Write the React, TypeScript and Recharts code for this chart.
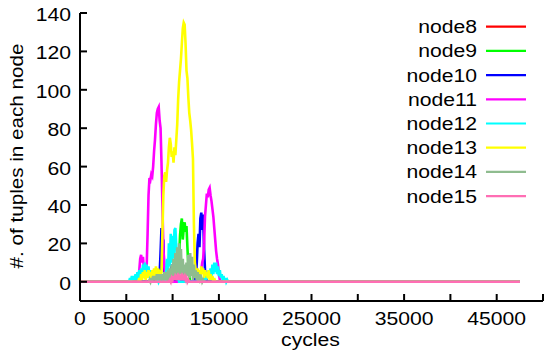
import React from 'react';
import { LineChart, Line, XAxis, YAxis, Legend } from 'recharts';

type Pt = [number, number];

const xTicks = [0, 5000, 10000, 15000, 20000, 25000, 30000, 35000, 40000, 45000, 50000];
const xTickLabels = [0, 5000, 15000, 25000, 35000, 45000];
const yTicks = [0, 20, 40, 60, 80, 100, 120, 140];

// [cycles, tuples]
const node8: Pt[] = [[0, 0], [47500, 0]];

const node9: Pt[] = [
  [0, 0], [10500, 0], [10600, 3], [10700, 12], [10800, 24], [10900, 30], [11000, 33], [11100, 22],
  [11200, 28], [11300, 31], [11400, 26], [11500, 29], [11600, 18], [11700, 8], [11800, 3], [11900, 0],
  [47500, 0],
];

const node10: Pt[] = [
  [0, 0], [8500, 0], [8600, 4], [8700, 15], [8800, 28], [8900, 12], [9000, 22], [9100, 4], [9200, 1],
  [9300, 0], [9800, 0], [9900, 9], [10000, 3], [10100, 0], [12400, 0], [12500, 3], [12600, 9],
  [12700, 20], [12800, 25], [12900, 18], [13000, 33], [13100, 36], [13200, 27], [13300, 35],
  [13400, 17], [13500, 6], [13600, 2], [13700, 0], [47500, 0],
];

const node11: Pt[] = [
  [0, 0], [6300, 0], [6400, 6], [6500, 12], [6600, 14], [6700, 10], [6800, 13], [6900, 7], [7000, 3],
  [7100, 2], [7200, 8], [7300, 25], [7400, 45], [7500, 54], [7600, 53], [7700, 56], [7800, 55],
  [7900, 60], [8000, 68], [8100, 74], [8200, 82], [8300, 88], [8400, 90], [8500, 91], [8600, 84],
  [8700, 80], [8800, 62], [8900, 40], [9000, 18], [9100, 8], [9200, 4], [9300, 0], [12900, 0],
  [13000, 3], [13100, 6], [13200, 10], [13300, 12], [13400, 20], [13500, 34], [13600, 40],
  [13700, 46], [13800, 44], [13900, 48], [14000, 49], [14100, 45], [14200, 42], [14300, 38],
  [14400, 34], [14500, 28], [14600, 22], [14700, 16], [14800, 12], [14900, 9], [15000, 4],
  [15100, 1], [15200, 0], [47500, 0],
];

const node12: Pt[] = [
  [0, 0], [5300, 0], [5400, 2], [5500, 0], [5600, 3], [5700, 1], [5800, 3], [5900, 1], [6000, 4],
  [6100, 1], [6200, 5], [6300, 2], [6400, 6], [6500, 2], [6600, 7], [6700, 3], [6800, 9], [6900, 4],
  [7000, 10], [7100, 5], [7200, 9], [7300, 3], [7400, 8], [7500, 2], [7600, 6], [7700, 2], [7800, 5],
  [7900, 1], [8000, 4], [8100, 1], [8200, 3], [8300, 0], [8400, 2], [8500, 0], [8600, 1], [8700, 0],
  [9200, 0], [9300, 5], [9400, 12], [9500, 4], [9600, 20], [9700, 8], [9800, 25], [9900, 10],
  [10000, 24], [10100, 12], [10200, 27], [10300, 28], [10400, 18], [10500, 6], [10600, 2], [10700, 0],
  [13200, 0], [13300, 2], [13400, 0], [13500, 4], [13600, 1], [13700, 5], [13800, 2], [13900, 6],
  [14000, 2], [14100, 7], [14200, 3], [14300, 9], [14400, 4], [14500, 10], [14600, 5], [14700, 10],
  [14800, 4], [14900, 8], [15000, 3], [15100, 6], [15200, 2], [15300, 4], [15400, 1], [15500, 3],
  [15600, 0], [15700, 2], [15800, 0], [15900, 1], [16000, 0], [47500, 0],
];

const node13: Pt[] = [
  [0, 0], [6300, 0], [6400, 2], [6500, 0], [6600, 4], [6700, 1], [6800, 5], [6900, 2], [7000, 6],
  [7100, 1], [7200, 5], [7300, 2], [7400, 6], [7500, 3], [7600, 5], [7700, 2], [7800, 6], [7900, 3],
  [8000, 7], [8100, 2], [8200, 8], [8300, 3], [8400, 7], [8500, 2], [8600, 5], [8700, 4], [8800, 5],
  [8900, 25], [9000, 45], [9100, 55], [9200, 57], [9300, 52], [9400, 58], [9500, 62], [9600, 70],
  [9700, 75], [9800, 72], [9900, 65], [10000, 68], [10100, 62], [10200, 70], [10300, 66], [10400, 74],
  [10500, 82], [10600, 95], [10700, 104], [10800, 110], [10900, 116], [11000, 124], [11100, 132],
  [11200, 135], [11300, 134], [11400, 124], [11500, 110], [11600, 106], [11700, 96], [11800, 88],
  [11900, 84], [12000, 79], [12100, 72], [12200, 64], [12300, 30], [12400, 10], [12500, 6], [12600, 3],
  [12700, 7], [12800, 2], [12900, 6], [13000, 3], [13100, 8], [13200, 4], [13300, 7], [13400, 2],
  [13500, 6], [13600, 3], [13700, 5], [13800, 2], [13900, 6], [14000, 1], [14100, 4], [14200, 1],
  [14300, 3], [14400, 0], [14500, 2], [14600, 0], [47500, 0],
];

const node14: Pt[] = [
  [0, 0], [7400, 0], [7500, 1], [7600, 0], [7700, 2], [7800, 0], [7900, 3], [8000, 1], [8100, 3],
  [8200, 0], [8300, 4], [8400, 1], [8500, 4], [8600, 0], [8700, 4], [8800, 1], [8900, 4], [9000, 0],
  [9100, 5], [9200, 1], [9300, 5], [9400, 0], [9500, 6], [9600, 1], [9700, 7], [9800, 0], [9900, 9],
  [10000, 2], [10100, 12], [10200, 1], [10300, 15], [10400, 3], [10500, 18], [10600, 2], [10700, 20],
  [10800, 4], [10900, 17], [11000, 2], [11100, 12], [11200, 1], [11300, 9], [11400, 2], [11500, 10],
  [11600, 3], [11700, 14], [11800, 2], [11900, 15], [12000, 3], [12100, 13], [12200, 1], [12300, 9],
  [12400, 2], [12500, 6], [12600, 1], [12700, 5], [12800, 0], [12900, 4], [13000, 1], [13100, 2],
  [13200, 0], [13300, 1], [13400, 0], [47500, 0],
];

const node15: Pt[] = [
  [0, 0], [9600, 0], [9700, 1], [9800, 0], [9900, 2], [10000, 1], [10100, 3], [10200, 1], [10300, 3],
  [10400, 2], [10500, 3], [10600, 1], [10700, 3], [10800, 2], [10900, 3], [11000, 1], [11100, 3],
  [11200, 2], [11300, 3], [11400, 1], [11500, 2], [11600, 0], [11700, 1], [11800, 0], [47500, 0],
];

const seriesNames = ['node8', 'node9', 'node10', 'node11', 'node12', 'node13', 'node14', 'node15'];
const seriesColors = ['#ff0000', '#00ff00', '#0000ff', '#ff00ff', '#00ffff', '#ffff00', '#8fbc8f', '#ff6eb4'];
const seriesData = [node8, node9, node10, node11, node12, node13, node14, node15];

const FONT = '"Liberation Sans", Arial, Helvetica, sans-serif';
const FS = 17.5;
const STRETCH = 1.21;
const TICK = 7;

const toRows = (pts: Pt[]) => pts.map(([c, v]) => ({ c, v }));

const BottomTick = (props: any) => {
  const { x, y, payload } = props;
  const v = payload.value;
  return (
    <g>
      <line x1={x} y1={y} x2={x} y2={y - TICK} stroke="#000" strokeWidth={2} />
      {xTickLabels.includes(v) && (
        <text
          transform={`translate(${x},${y + 24}) scale(${STRETCH},1)`}
          textAnchor="middle"
          fontSize={FS}
          fontFamily={FONT}
          fill="#000"
        >
          {v}
        </text>
      )}
    </g>
  );
};

const TopTick = (props: any) => {
  const { x, y } = props;
  return <line x1={x} y1={y} x2={x} y2={y + TICK} stroke="#000" strokeWidth={2} />;
};

const LeftTick = (props: any) => {
  const { x, y, payload } = props;
  return (
    <g>
      <line x1={x} y1={y} x2={x + TICK} y2={y} stroke="#000" strokeWidth={2} />
      <text
        transform={`translate(${x - 9},${y + 8}) scale(${STRETCH},1)`}
        textAnchor="end"
        fontSize={FS}
        fontFamily={FONT}
        fill="#000"
      >
        {payload.value}
      </text>
    </g>
  );
};

const RightTick = (props: any) => {
  const { x, y } = props;
  return <line x1={x} y1={y} x2={x - TICK} y2={y} stroke="#000" strokeWidth={2} />;
};

const yTitle = (p: any) => {
  const vb = p.viewBox;
  return (
    <text
      transform={`translate(${vb.x + 23},${vb.y + vb.height / 2 - 1}) rotate(-90) scale(1.18,1)`}
      textAnchor="middle"
      fontSize={FS}
      fontFamily={FONT}
      fill="#000"
    >
      #. of tuples in each node
    </text>
  );
};

const xTitle = (p: any) => {
  const vb = p.viewBox;
  return (
    <text
      transform={`translate(${vb.x + vb.width / 2 - 1},${vb.y + 45}) scale(${STRETCH},1)`}
      textAnchor="middle"
      fontSize={FS}
      fontFamily={FONT}
      fill="#000"
    >
      cycles
    </text>
  );
};

const renderLegend = () => (
  <svg width={544} height={356} style={{ position: 'absolute', left: 0, top: 0 }}>
    {seriesNames.map((name, i) => {
      const y = 26.7 + i * 24.2;
      return (
        <g key={name}>
          <text
            transform={`translate(477,${y + 6.5}) scale(${STRETCH},1)`}
            textAnchor="end"
            fontSize={FS}
            fontFamily={FONT}
            fill="#000"
          >
            {name}
          </text>
          <line x1={486} y1={y} x2={526} y2={y} stroke={seriesColors[i]} strokeWidth={2.2} />
        </g>
      );
    })}
  </svg>
);

export default function App() {
  return (
    <div style={{ position: 'absolute', left: 0, top: 0, width: 544, height: 356, background: '#fff' }}>
      <LineChart width={544} height={356} margin={{ top: 13, right: 1, bottom: 0, left: 0 }}>
        <XAxis
          dataKey="c"
          type="number"
          domain={[0, 50000]}
          ticks={xTicks}
          interval={0}
          allowDataOverflow
          height={55}
          tickSize={0}
          tickMargin={0}
          tickLine={false}
          tick={<BottomTick />}
          axisLine={{ stroke: '#000', strokeWidth: 2 }}
          label={xTitle}
        />
        <XAxis
          xAxisId="top"
          orientation="top"
          type="number"
          domain={[0, 50000]}
          ticks={xTicks}
          interval={0}
          height={0}
          tickSize={0}
          tickMargin={0}
          tickLine={false}
          tick={<TopTick />}
          axisLine={{ stroke: '#000', strokeWidth: 2 }}
        />
        <YAxis
          type="number"
          domain={[-10, 140]}
          ticks={yTicks}
          interval={0}
          allowDataOverflow
          width={80}
          tickSize={0}
          tickMargin={0}
          tickLine={false}
          tick={<LeftTick />}
          axisLine={{ stroke: '#000', strokeWidth: 2 }}
          label={yTitle}
        />
        <YAxis
          yAxisId="right"
          orientation="right"
          type="number"
          domain={[-10, 140]}
          ticks={yTicks}
          interval={0}
          width={0}
          tickSize={0}
          tickMargin={0}
          tickLine={false}
          tick={<RightTick />}
          axisLine={{ stroke: '#000', strokeWidth: 2 }}
        />
        <Legend
          layout="horizontal"
          verticalAlign="middle"
          align="center"
          content={renderLegend}
          wrapperStyle={{ position: 'absolute', left: 0, top: 0, width: 544, height: 356, pointerEvents: 'none' }}
        />
        {seriesNames.map((name, i) => (
          <Line
            key={name}
            name={name}
            data={toRows(seriesData[i])}
            dataKey="v"
            type="linear"
            stroke={seriesColors[i]}
            strokeWidth={2.6}
            dot={false}
            activeDot={false}
            isAnimationActive={false}
          />
        ))}
      </LineChart>
    </div>
  );
}
